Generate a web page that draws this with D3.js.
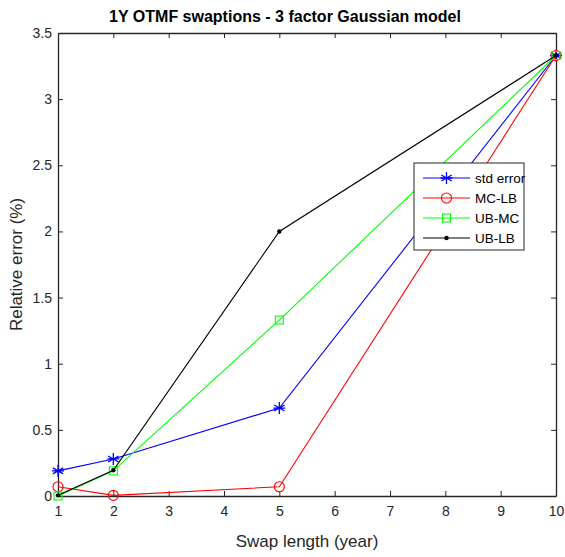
<!DOCTYPE html>
<html><head><meta charset="utf-8">
<script src="https://cdn.jsdelivr.net/npm/d3@7"></script>
<style>body{margin:0;background:#fff}svg{display:block;font-family:"Liberation Sans",Arial,sans-serif}</style>
</head><body>
<svg id="c" width="565" height="557"></svg>
<script>
const xs = [1, 2, 5, 10];
const stdError = [0.19, 0.28, 0.665, 3.33];
const mcLb = [0.07, 0.005, 0.07, 3.33];
const ubMc = [0.0, 0.19, 1.33, 3.33];
const ubLb = [0.005, 0.195, 2.0, 3.33];
const xTicks = [1,2,3,4,5,6,7,8,9,10];
const yTicks = [0,0.5,1,1.5,2,2.5,3,3.5];
const seriesNames = ["std error","MC-LB","UB-MC","UB-LB"];
const seriesColors = ["#0000ff","#ff0000","#00ff00","#000000"];
const seriesMarkers = ["star","circle","square","dot"];
const seriesData = [stdError, mcLb, ubMc, ubLb];

const svg = d3.select("#c");
const L=58,R=556,T=33,B=496;
const x = d3.scaleLinear().domain([1,10]).range([L,R]);
const y = d3.scaleLinear().domain([0,3.5]).range([B,T]);
const axisCol="#262626";

const g = svg.append("g");
const tl=5;
const xa = g.append("g").attr("transform",`translate(0,${B})`).call(d3.axisBottom(x).tickValues(xTicks).tickSizeInner(-tl).tickSizeOuter(0).tickPadding(10));
const xt = g.append("g").attr("transform",`translate(0,${T})`).call(d3.axisTop(x).tickValues(xTicks).tickSizeInner(-tl).tickSizeOuter(0).tickFormat(""));
const ya = g.append("g").attr("transform",`translate(${L},0)`).call(d3.axisLeft(y).tickValues(yTicks).tickSizeInner(-tl).tickSizeOuter(0).tickPadding(6).tickFormat(d3.format("")));
const yr = g.append("g").attr("transform",`translate(${R},0)`).call(d3.axisRight(y).tickValues(yTicks).tickSizeInner(-tl).tickSizeOuter(0).tickFormat(""));
[xa,xt,ya,yr].forEach(a=>{
  a.selectAll("path").attr("stroke",axisCol).attr("stroke-width",1.3);
  a.selectAll("line").attr("stroke",axisCol);
  a.selectAll("text").attr("fill",axisCol).style("font-size","14px").style("font-family","'Liberation Sans',Arial,sans-serif");
});

function drawMarker(sel, type, color, size){
  if(type==="star"){
    const r=size;
    const p=[];
    for(let i=0;i<3;i++){const a=Math.PI/2+i*Math.PI/3; p.push(`M${-r*Math.cos(a)},${-r*Math.sin(a)}L${r*Math.cos(a)},${r*Math.sin(a)}`);}
    p.push(`M${-r},0L${r},0`);
    sel.append("path").attr("d",p.join("")).attr("stroke",color).attr("stroke-width",1.3).attr("fill","none");
  } else if(type==="circle"){
    sel.append("circle").attr("r",size).attr("stroke",color).attr("fill","none").attr("stroke-width",1.1);
  } else if(type==="square"){
    sel.append("rect").attr("x",-size).attr("y",-size).attr("width",2*size).attr("height",2*size).attr("stroke",color).attr("fill","none").attr("stroke-width",1.1);
  } else {
    sel.append("circle").attr("r",2.2).attr("fill",color);
  }
}
const line = d3.line().x(d=>x(d[0])).y(d=>y(d[1]));
const sizes={star:6,circle:5,square:4};
seriesData.forEach((vals,i)=>{
  const pts = xs.map((xv,j)=>[xv,vals[j]]);
  svg.append("path").datum(pts).attr("d",line).attr("fill","none").attr("stroke",seriesColors[i]).attr("stroke-width",1.1);
  pts.forEach(p=>{
    const m=svg.append("g").attr("transform",`translate(${x(p[0])},${y(p[1])})`);
    drawMarker(m, seriesMarkers[i], seriesColors[i], sizes[seriesMarkers[i]]);
  });
});

const lg = svg.append("g");
lg.append("rect").attr("x",414).attr("y",163).attr("width",110).attr("height",87).attr("fill","#fff").attr("stroke","#262626").attr("stroke-width",1);
seriesNames.forEach((n,i)=>{
  const yy=178+i*20;
  lg.append("line").attr("x1",423).attr("x2",470).attr("y1",yy).attr("y2",yy).attr("stroke",seriesColors[i]).attr("stroke-width",1.1);
  const m=lg.append("g").attr("transform",`translate(446.5,${yy})`);
  drawMarker(m, seriesMarkers[i], seriesColors[i], sizes[seriesMarkers[i]]);
  lg.append("text").attr("x",475).attr("y",yy).attr("dy","0.35em").attr("fill","#000").style("font-size","13.5px").text(n);
});

svg.append("text").attr("x",(L+R)/2-22).attr("y",22).attr("text-anchor","middle").style("font-size","16px").style("font-weight","bold").attr("fill","#000").text("1Y OTMF swaptions - 3 factor Gaussian model");
svg.append("text").attr("x",(L+R)/2).attr("y",547).attr("text-anchor","middle").style("font-size","17px").attr("fill",axisCol).text("Swap length (year)");
svg.append("text").attr("transform",`translate(22,${(T+B)/2}) rotate(-90)`).attr("text-anchor","middle").style("font-size","17px").attr("fill",axisCol).text("Relative error (%)");
</script>
</body></html>
